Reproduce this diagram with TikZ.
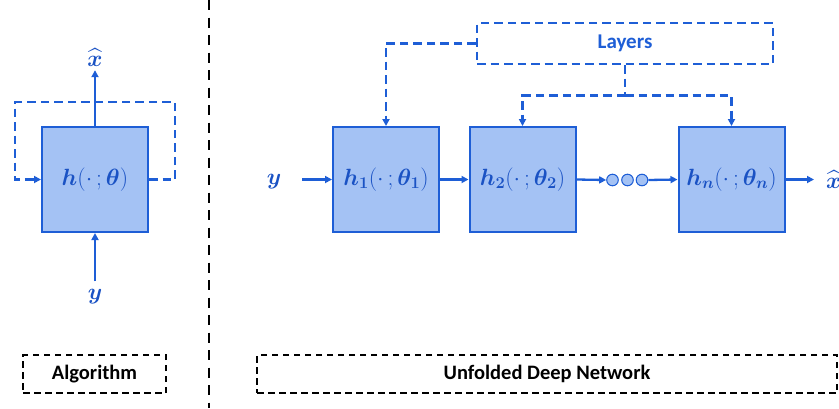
\RequirePackage{fix-cm}
\documentclass[tikz,border=0pt]{standalone}
\usepackage{amsmath}
\usepackage{bm}
\usepackage{fontspec}
\setmainfont{Carlito}
\usetikzlibrary{arrows.meta}
\definecolor{lineblue}{RGB}{30,94,214}
\definecolor{boxfill}{RGB}{164,194,244}
\definecolor{mathblue}{RGB}{26,82,196}
\tikzset{
  x=1pt, y=-1pt,
  block/.style={draw=lineblue, line width=2pt, fill=boxfill, minimum width=106pt, minimum height=105pt, inner sep=0pt,
    text=mathblue, font=\fontsize{23.5}{27}\selectfont},
  lbl/.style={text=mathblue, font=\fontsize{23}{27}\selectfont, inner sep=1pt},
  flow/.style={draw=lineblue, line width=2.3pt, -{Triangle[length=7pt,width=7pt]}},
  feed/.style={draw=lineblue, line width=2.3pt, dash pattern=on 8.5pt off 5pt},
  feedarr/.style={feed, -{Triangle[length=7pt,width=7pt]}},
  caption/.style={draw=black, line width=1.9pt, dash pattern=on 6.5pt off 4.5pt, minimum height=38pt, inner sep=0pt,
    font=\bfseries\fontsize{20.5}{24}\selectfont},
  dot/.style={circle, draw=lineblue, line width=1pt, fill=boxfill, minimum size=11.6pt, inner sep=0pt},
}
\begin{document}
\begin{tikzpicture}
\useasboundingbox (0,0) rectangle (839,408);

% ---- iterative algorithm ----
\node[block] (alg) at (95,179.5) {$\bm{h}(\cdot\,;\bm{\theta})$};
\node[lbl] (xl) at (95,58) {$\widehat{\bm{x}}$};
\node[lbl] (yl) at (95,297) {$\bm{y}$};
\coordinate (fbR) at (175,102);
\coordinate (fbL) at (15,102);
\draw[flow, shorten >=2pt] (alg.north) -- (xl.south);
\draw[flow, shorten <=7pt] (yl.north) -- (alg.south);
\draw[feedarr] (alg.east) -| (fbR) -- (fbL) |- (alg.west);

% ---- separator ----
\coordinate (sepT) at (209,0);
\coordinate (sepB) at (209,408);
\draw[black, line width=2pt, dash pattern=on 10pt off 7.5pt] (sepT) -- (sepB);

% ---- unfolded network ----
\node[block] (h1) at (386,179.5) {$\bm{h_1}(\cdot\,;\bm{\theta_1})$};
\node[block] (h2) at (522.5,179.5) {$\bm{h_2}(\cdot\,;\bm{\theta_2})$};
\node[block] (hn) at (731.5,179.5) {$\bm{h_n}(\cdot\,;\bm{\theta_n})$};
\node[dot] (c1) at (612.5,180) {};
\node[dot] (c2) at (627.5,180) {};
\node[dot] (c3) at (642,180) {};
\node[lbl] (yin) at (274,182) {$\bm{y}$};
\node[lbl, anchor=west] (xout) at (825,180) {$\widehat{\bm{x}}$};

\draw[flow, shorten <=20pt] (yin.east |- h1.west) -- (h1.west);
\draw[flow] (h1.east) -- (h2.west);
\draw[flow] (h2.east) -- (c1.west);
\draw[flow] (c3.east) -- (hn.west);
\draw[flow, shorten >=11pt] (hn.east) -- (xout.west |- hn.east);

\node[draw=lineblue, line width=2.3pt, dash pattern=on 8.5pt off 5pt, minimum width=296pt, minimum height=41pt,
      inner sep=0pt, text=lineblue, font=\bfseries\fontsize{21}{25}\selectfont] (layers) at (625,43.5) {Layers};
\coordinate (jn) at (625,95.5);
\draw[feedarr] (layers.west) -| (h1.north);
\draw[feed] (layers.south) -- (jn);
\draw[feedarr] (jn) -| (h2.north);
\draw[feedarr] (jn) -| (hn.north);

% ---- captions ----
\node[caption, minimum width=143pt] (capA) at (94.5,374) {Algorithm};
\node[caption, minimum width=580pt] (capB) at (547,374) {Unfolded Deep Network};
\end{tikzpicture}
\end{document}
